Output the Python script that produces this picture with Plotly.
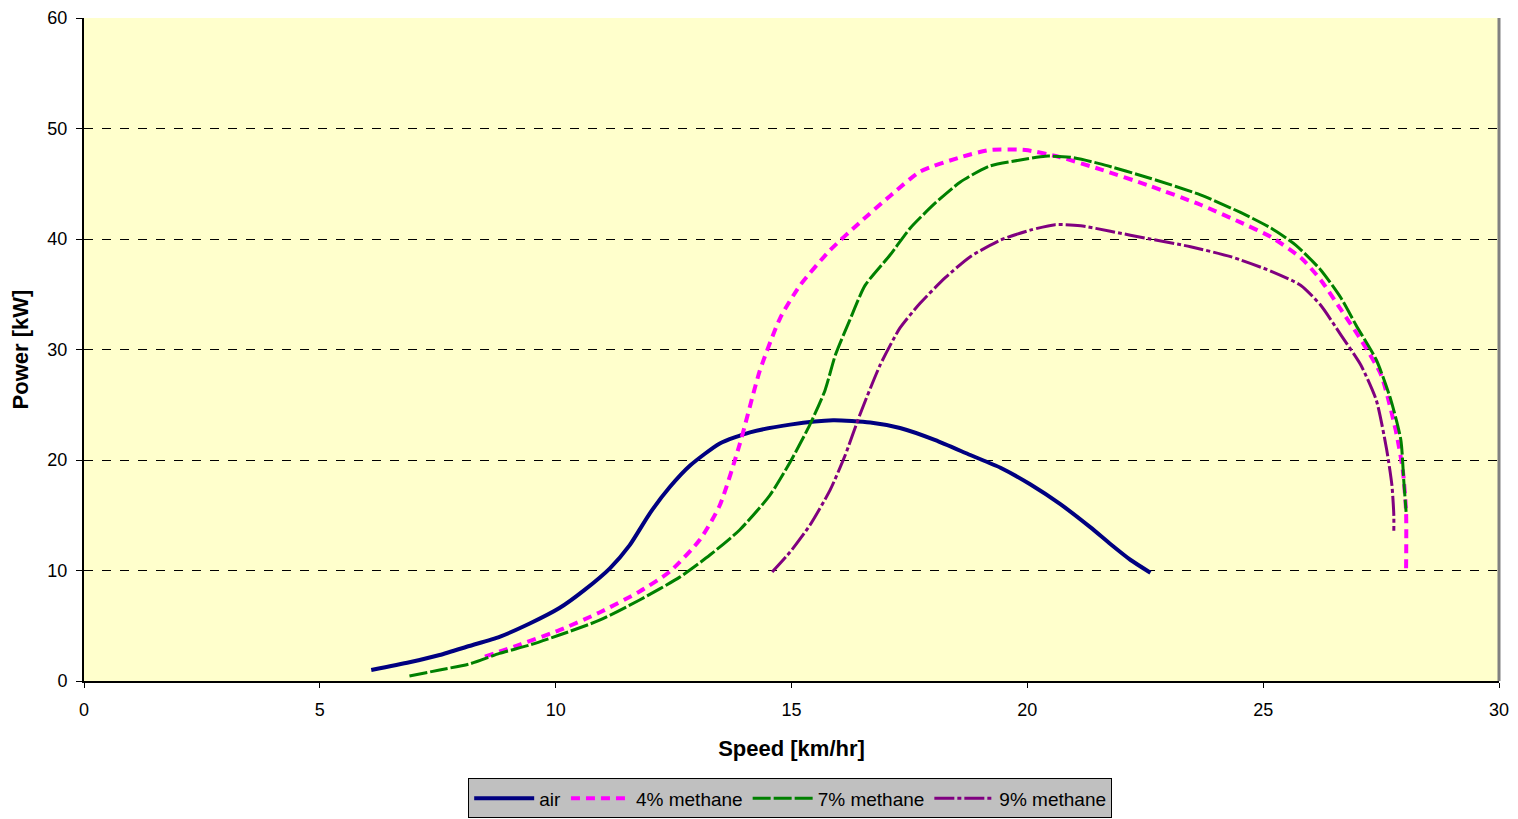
import plotly.graph_objects as go

# ---- data ----
air_x = [6.09, 6.9, 7.54, 8.17, 8.81, 9.45, 10.08, 10.6, 11.15, 11.57, 12.0, 12.42, 12.85, 13.48,
         14.12, 14.97, 15.88, 16.67, 17.3, 18.05, 18.79, 19.43, 20.06, 20.7, 21.34, 21.76, 22.19, 22.61]
air_y = [1.0, 1.7, 2.35, 3.17, 4.0, 5.2, 6.6, 8.2, 10.2, 12.3, 15.2, 17.55, 19.5, 21.5,
         22.5, 23.2, 23.6, 23.4, 22.9, 21.8, 20.45, 19.3, 17.8, 16.0, 13.9, 12.4, 10.95, 9.8]

m4_x = [8.5, 9.24, 10.08, 10.93, 11.78, 12.42, 13.06, 13.48, 13.9, 14.33, 14.76, 15.18, 15.82,
        16.45, 17.09, 17.73, 18.58, 19.2, 19.96, 20.7, 21.55, 22.6, 23.67, 24.52, 25.16, 25.8,
        26.22, 26.65, 27.07, 27.5, 27.81, 27.96, 28.03, 28.03]
m4_y = [2.2, 3.3, 4.6, 6.2, 8.1, 9.9, 12.8, 15.9, 21.4, 28.1, 32.85, 35.8, 39.0,
        41.5, 43.9, 46.1, 47.4, 48.05, 48.05, 47.4, 46.3, 44.8, 43.1, 41.5, 40.2, 38.3,
        36.3, 33.6, 30.9, 27.7, 22.7, 19.1, 15.3, 10.0]

m7_x = [6.9, 7.54, 8.17, 8.81, 9.45, 10.08, 10.93, 11.78, 12.63, 13.27, 13.9, 14.54, 14.97, 15.39,
        15.71, 15.93, 16.24, 16.56, 17.09, 17.52, 18.05, 18.58, 19.2, 19.85, 20.38, 20.91, 21.55,
        22.6, 23.67, 24.52, 25.16, 25.69, 26.22, 26.65, 26.97, 27.4, 27.71, 27.92, 27.98, 28.03]
m7_y = [0.45, 1.0, 1.54, 2.5, 3.26, 4.16, 5.5, 7.33, 9.4, 11.4, 13.67, 16.8, 19.8, 23.2,
        26.3, 29.5, 32.7, 35.8, 38.55, 41.0, 43.26, 45.16, 46.6, 47.15, 47.5, 47.4, 46.8,
        45.5, 44.0, 42.4, 41.0, 39.45, 37.2, 34.66, 32.2, 29.05, 25.4, 21.8, 18.2, 15.3]

m9_x = [14.59, 14.97, 15.39, 15.82, 16.14, 16.45, 16.88, 17.3, 17.73, 18.26, 18.79, 19.43, 20.06,
        20.59, 21.13, 21.76, 22.6, 23.46, 24.31, 25.16, 25.8, 26.22, 26.65, 27.07, 27.4, 27.62,
        27.73, 27.77, 27.77]
m9_y = [9.86, 11.67, 14.1, 17.3, 20.45, 24.1, 28.6, 31.95, 34.2, 36.5, 38.4, 39.9, 40.8,
        41.3, 41.2, 40.7, 40.0, 39.3, 38.4, 37.1, 35.8, 34.0, 31.3, 28.6, 25.4, 20.9,
        17.7, 15.0, 13.6]

series_names = ["air", "4% methane", "7% methane", "9% methane"]
x_ticks = [0, 5, 10, 15, 20, 25, 30]
y_ticks = [0, 10, 20, 30, 40, 50, 60]

FONT = "Liberation Sans, Arial, sans-serif"

fig = go.Figure()
fig.add_trace(go.Scatter(x=air_x, y=air_y, mode="lines", name=series_names[0],
                         line=dict(color="#000080", width=4, shape="spline", smoothing=0.6)))
fig.add_trace(go.Scatter(x=m4_x, y=m4_y, mode="lines", name=series_names[1],
                         line=dict(color="#FF00FF", width=4, dash="9px,6px", shape="spline", smoothing=0.6)))
fig.add_trace(go.Scatter(x=m7_x, y=m7_y, mode="lines", name=series_names[2],
                         line=dict(color="#008000", width=3, dash="18px,3px", shape="spline", smoothing=0.6)))
fig.add_trace(go.Scatter(x=m9_x, y=m9_y, mode="lines", name=series_names[3],
                         line=dict(color="#800080", width=3, dash="20px,3px,4px,3px", shape="spline", smoothing=0.6)))

fig.update_layout(
    width=1510, height=811,
    margin=dict(l=76, r=19, t=10, b=138),
    paper_bgcolor="white",
    plot_bgcolor="#FFFFCC",
    font=dict(family=FONT, size=18, color="black"),
    showlegend=True,
    legend=dict(orientation="h", x=0.518, xanchor="center", xref="container",
                y=0.05, yanchor="top", yref="container",
                bgcolor="#C0C0C0", bordercolor="black", borderwidth=1,
                font=dict(family=FONT, size=19, color="black"),
                itemwidth=60, tracegroupgap=0),
    xaxis=dict(range=[0, 30], tickvals=x_ticks, showgrid=False, zeroline=False,
               showline=True, linecolor="black", linewidth=2, automargin=False,
               ticks="outside", ticklen=5, tickcolor="black", ticklabelstandoff=6,
               tickfont=dict(size=18),
               title=dict(text="<b>Speed [km/hr]</b>", font=dict(size=22), standoff=22)),
    yaxis=dict(range=[0, 60], tickvals=y_ticks, showgrid=True, gridcolor="black",
               griddash="dash", gridwidth=1, zeroline=False, automargin=False,
               showline=True, linecolor="black", linewidth=2,
               ticks="outside", ticklen=6, tickcolor="black", ticklabelstandoff=5,
               tickfont=dict(size=18),
               title=dict(text="<b>Power [kW]</b>", font=dict(size=22), standoff=14)),
)

fig.add_shape(type="line", xref="paper", yref="paper", x0=1, x1=1, y0=0, y1=1,
              line=dict(color="#808080", width=3))

fig.write_html("out.html")
